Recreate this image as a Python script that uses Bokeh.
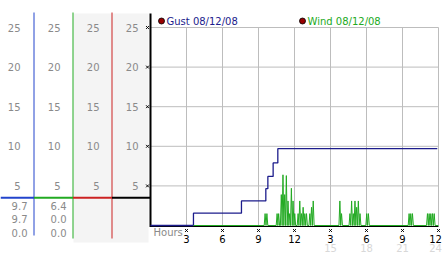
from bokeh.plotting import figure
from bokeh.models import Range1d
from bokeh.embed import file_html
from bokeh.resources import INLINE
from bokeh.core.properties import value

# ---------------- data ----------------
gust_hours = [0, 3.58, 7.58, 9.61, 9.78, 10.22, 10.61, 23.9]
gust_mph = [0, 1.55, 3.1, 4.65, 6.2, 7.9, 9.7, 9.7]

wind_start = 3.58
wind_end = 24.0
wind_hours = [9.55, 9.70, 10.55, 10.68, 10.90, 11.04, 11.18, 11.32, 11.46, 11.60,
              11.74, 11.88, 12.02, 12.30, 12.44, 12.58, 12.72, 12.86, 13.00, 13.28,
              13.42, 13.56, 15.78, 15.92, 16.62, 16.76, 16.90, 17.04, 17.18, 17.32,
              17.46, 18.02, 18.16, 21.55, 21.69, 21.83, 23.08, 23.22, 23.36, 23.50,
              23.64]
wind_mph = [1.5, 1.5, 1.5, 1.5, 3.9, 6.4, 3.9, 6.3, 3.1, 1.5,
            4.7, 3.1, 1.5, 1.5, 3.1, 1.5, 2.3, 1.5, 1.5, 1.5,
            2.3, 3.1, 3.1, 1.5, 1.5, 3.1, 1.5, 3.1, 2.3, 3.1,
            1.5, 1.5, 1.5, 1.5, 1.5, 1.5, 1.5, 1.5, 1.5, 1.5,
            1.5]

y_ticks = [5, 10, 15, 20, 25]
y_tick_labels = ["5", "10", "15", "20", "25"]
x_ticks = [3, 6, 9, 12, 15, 18, 21, 24]
x_tick_labels = ["3", "6", "9", "12", "3", "6", "9", "12"]
x_ticks_pm = [15, 18, 21, 24]
x_tick_labels_pm = ["15", "18", "21", "24"]
stats_gust = ["9.7", "9.7", "0.0"]
stats_wind = ["6.4", "0.0", "0.0"]
legend_labels = ["Gust 08/12/08", "Wind 08/12/08"]
threshold = 3.5

# ---------------- layout constants ----------------
W, H = 442, 253
X0, XS = 150.0, 12.0      # px of hour 0, px per hour
Y0, YS = 225.0, 7.92      # px of value 0, px per unit
FONT = value("DejaVu Sans")
GRAY = "#8a8a8a"
BLUE = "#2244cc"
GREEN = "#22aa22"
RED = "#cc2222"
NAVY = "#1c1c8c"

p = figure(width=W, height=H,
           x_range=Range1d(-X0 / XS, (W - X0) / XS),
           y_range=Range1d(-(H - Y0) / YS, Y0 / YS),
           output_backend="svg", toolbar_location=None,
           x_axis_location=None, y_axis_location=None,
           min_border=0, outline_line_color=None,
           background_fill_color="white", border_fill_color="white")
p.grid.visible = False
p.extra_x_ranges = {"px": Range1d(0, W)}
p.extra_y_ranges = {"px": Range1d(H, 0)}

# ---------- left panel ----------
p.quad(left=73, right=148, top=13, bottom=242, x_range_name="px", y_range_name="px",
       fill_color="#f4f4f4", line_color=None)
p.segment(x0=[33.5, 72.5, 111.5], y0=[12, 12, 12], x1=[33.5, 72.5, 111.5], y1=[235, 238, 238],
          x_range_name="px", y_range_name="px", line_color=[BLUE, GREEN, RED], line_width=1)

col_right = [20, 60, 99, 138]
for cx in col_right:
    p.text(x=[cx] * len(y_ticks), y=y_ticks, text=y_tick_labels, x_range_name="px",
           text_font=FONT, text_font_size="10px", text_color=GRAY,
           text_align="right", text_baseline="middle")

# threshold line across panel columns
p.segment(x0=[0, 33.5, 72.5, 111.5], y0=[threshold] * 4, x1=[33.5, 72.5, 111.5, 150],
          y1=[threshold] * 4, x_range_name="px",
          line_color=[BLUE, GREEN, RED, "black"], line_width=2)

stat_rows = [205, 218.5, 232]
p.text(x=[27] * 3, y=stat_rows, text=stats_gust, x_range_name="px", y_range_name="px",
       text_font=FONT, text_font_size="10px", text_color=GRAY,
       text_align="right", text_baseline="middle")
p.text(x=[66] * 3, y=stat_rows, text=stats_wind, x_range_name="px", y_range_name="px",
       text_font=FONT, text_font_size="10px", text_color=GRAY,
       text_align="right", text_baseline="middle")

# ---------- chart ----------
p.segment(x0=[0] * len(y_ticks), y0=y_ticks, x1=[24] * len(y_ticks), y1=y_ticks,
          line_color="#bdbdbd", line_width=1)
p.segment(x0=x_ticks, y0=[0] * len(x_ticks), x1=x_ticks, y1=[25] * len(x_ticks),
          line_color="#bdbdbd", line_width=1)

# left axis line
p.segment(x0=[150], y0=[13], x1=[150], y1=[226.5], x_range_name="px", y_range_name="px",
          line_color="black", line_width=2)
# bottom axis line
p.segment(x0=[0], y0=[226], x1=[24], y1=[226], y_range_name="px",
          line_color="black", line_width=1)

# y tick markers
p.scatter(x=[147] * len(y_ticks), y=y_ticks, x_range_name="px", marker="x",
          size=4, line_color="black", line_width=1)

# gust
p.step(gust_hours, gust_mph, mode="after", line_color=NAVY, line_width=1.3)

# wind spikes (zigzag between zero and each reading)
hw = 0.075
wx, wy = [wind_start], [0]
for t, v in zip(wind_hours, wind_mph):
    wx += [t - hw, t, t + hw]
    wy += [0, v, 0]
wx.append(wind_end)
wy.append(0)
p.line(wx, wy, line_color=GREEN, line_width=1)

# x tick markers and labels
p.scatter(x=x_ticks, y=[230] * len(x_ticks), y_range_name="px", marker="x",
          size=4, line_color="black", line_width=1)
offs = [0] * (len(x_ticks) - 1) + [-3]
p.text(x=x_ticks, y=[238.5] * len(x_ticks), text=x_tick_labels, y_range_name="px",
       x_offset=offs,
       text_font=FONT, text_font_size="10px", text_color="black",
       text_align="center", text_baseline="middle")
offs_pm = [0] * (len(x_ticks_pm) - 1) + [-3]
p.text(x=x_ticks_pm, y=[247] * len(x_ticks_pm), text=x_tick_labels_pm, y_range_name="px",
       x_offset=offs_pm,
       text_font=FONT, text_font_size="10px", text_color="#d8d8d8",
       text_align="center", text_baseline="middle")
p.text(x=[153], y=[232], text=["Hours"], x_range_name="px", y_range_name="px",
       text_font=FONT, text_font_size="10px", text_color=GRAY,
       text_align="left", text_baseline="middle")

# legend
p.scatter(x=[161, 302], y=[20.5, 20.5], x_range_name="px", y_range_name="px",
          marker="circle", size=6, fill_color="#990000", line_color="black", line_width=0.8)
p.text(x=[166, 307], y=[20.5, 20.5], text=legend_labels, x_range_name="px", y_range_name="px",
       text_font=FONT, text_font_size="10px", text_color=[NAVY, GREEN],
       text_align="left", text_baseline="middle")

open("out.html", "w").write(file_html(p, INLINE))
